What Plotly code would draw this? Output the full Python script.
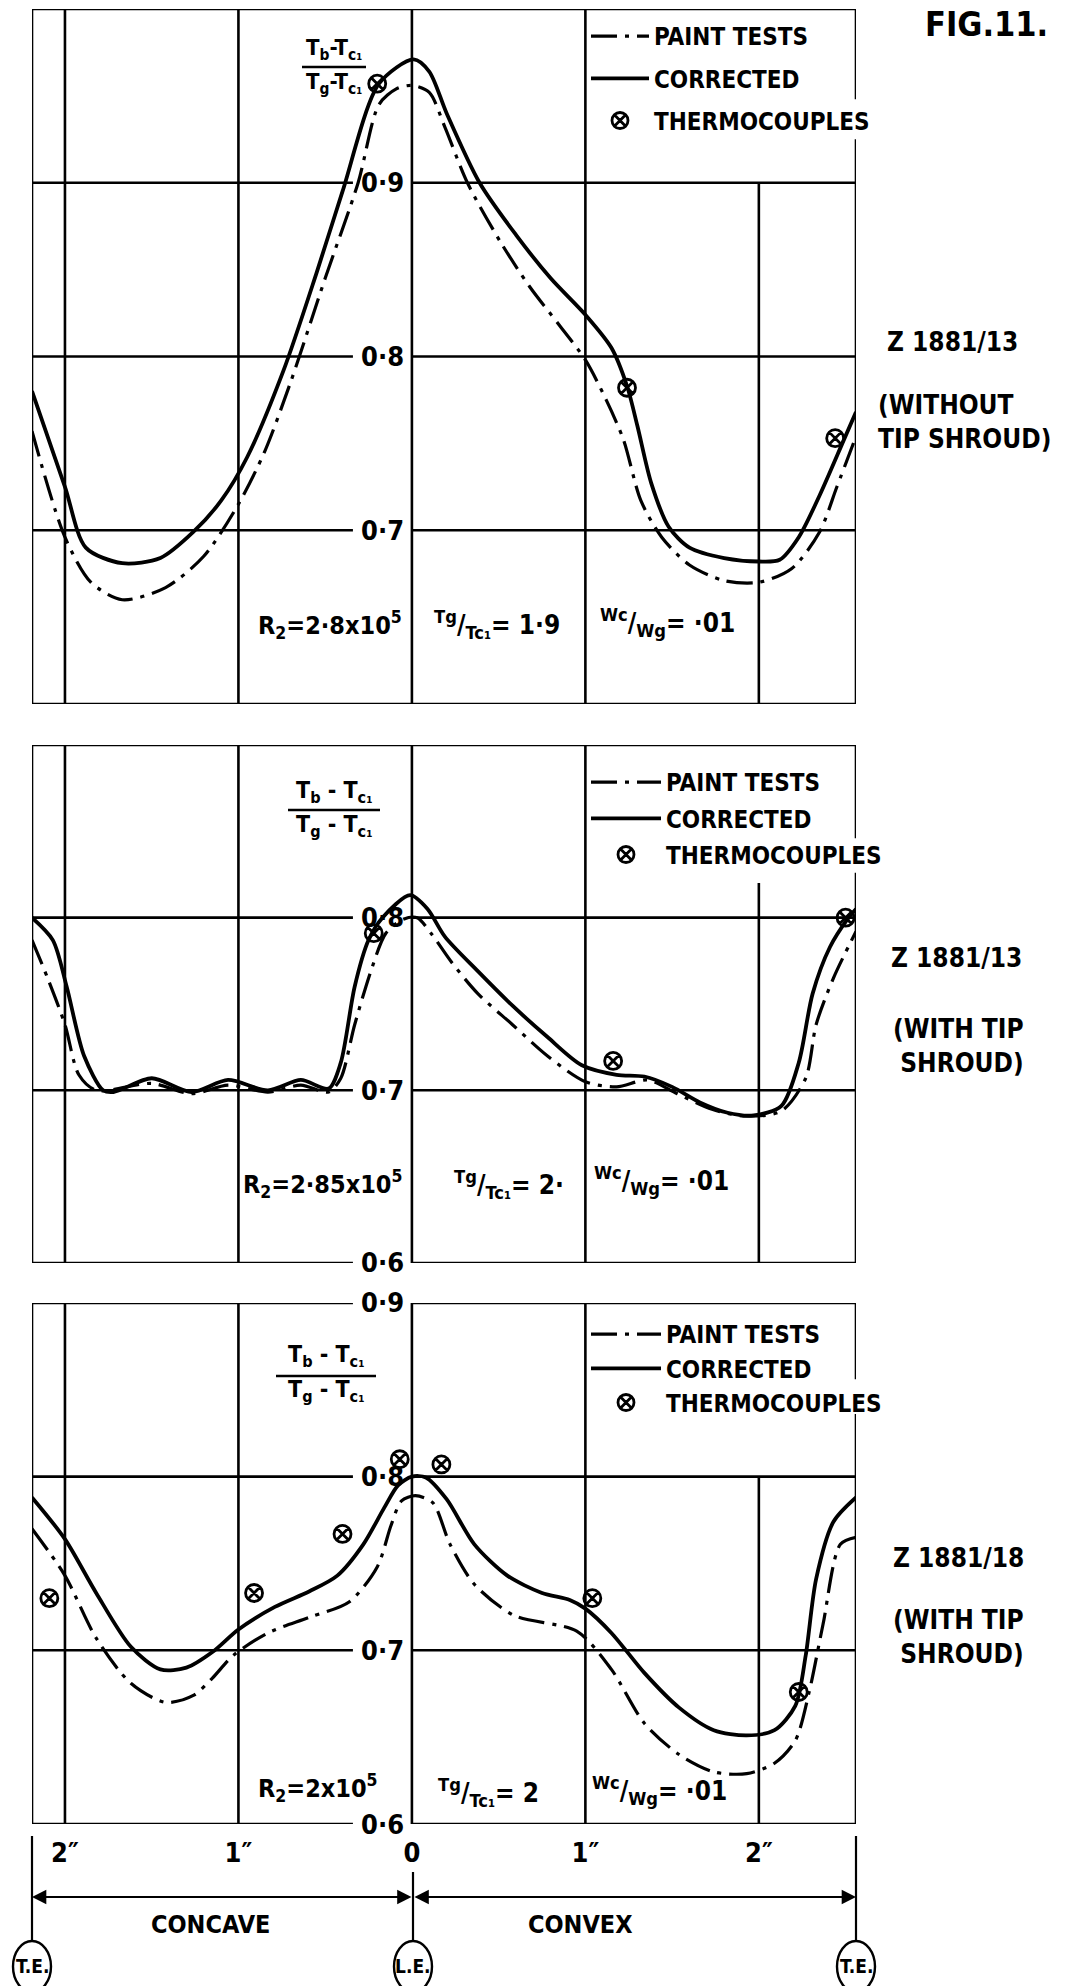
import plotly.graph_objects as go

FONT = "Liberation Sans Narrow, DejaVu Sans Condensed, Liberation Sans, sans-serif"
INK = "black"

# Surface distance from the leading edge in inches (concave side negative)
X_MIN, X_MAX = -2.19, 2.56
GRID_X = [-2, -1, 0, 1, 2]
TICK_TEXT = ["2″", "1″", "0", "1″", "2″"]

# ---- Z 1881/13, without tip shroud ----
p1_paint_x = [-2.19, -2.0, -1.85, -1.67, -1.42, -1.2, -1.0, -0.85, -0.70, -0.50, -0.31, -0.19, -0.09, 0.0,
              0.10, 0.19, 0.32, 0.51, 0.68, 0.85, 1.0, 1.12, 1.22, 1.32, 1.44, 1.6, 1.8, 2.0, 2.19, 2.35, 2.45, 2.56]
p1_paint_y = [0.757, 0.696, 0.670, 0.660, 0.667, 0.685, 0.715, 0.745, 0.785, 0.845, 0.900, 0.945, 0.954, 0.956,
              0.952, 0.932, 0.900, 0.866, 0.840, 0.818, 0.798, 0.775, 0.752, 0.717, 0.696, 0.680, 0.671, 0.670, 0.678,
              0.699, 0.725, 0.754]
p1_corr_x = [-2.19, -2.0, -1.88, -1.67, -1.45, -1.26, -1.1, -0.95, -0.74, -0.55, -0.40, -0.19, 0.01, 0.10, 0.20,
             0.39, 0.60, 0.80, 1.0, 1.15, 1.24, 1.30, 1.38, 1.48, 1.6, 1.8, 2.0, 2.12, 2.23, 2.35, 2.49, 2.56]
p1_corr_y = [0.780, 0.725, 0.690, 0.681, 0.684, 0.699, 0.717, 0.742, 0.792, 0.848, 0.895, 0.957, 0.971, 0.964, 0.940,
             0.900, 0.870, 0.845, 0.824, 0.805, 0.783, 0.760, 0.727, 0.702, 0.690, 0.684, 0.682, 0.683, 0.696, 0.720,
             0.752, 0.768]
p1_tc_x = [-0.20, 1.24, 2.44]
p1_tc_y = [0.957, 0.782, 0.753]

# ---- Z 1881/13, with tip shroud ----
p2_paint_x = [-2.19, -2.1, -2.0, -1.92, -1.82, -1.5, -1.27, -1.06, -0.83, -0.64, -0.48, -0.41, -0.33, -0.23,
              -0.15, -0.05, 0.03, 0.11, 0.23, 0.38, 0.58, 0.78, 1.0, 1.18, 1.36, 1.53, 1.73, 1.93, 2.13, 2.27,
              2.33, 2.43, 2.56]
p2_paint_y = [0.787, 0.765, 0.738, 0.709, 0.700, 0.704, 0.698, 0.703, 0.699, 0.703, 0.699, 0.707, 0.738, 0.771,
              0.791, 0.799, 0.800, 0.791, 0.774, 0.756, 0.738, 0.720, 0.705, 0.702, 0.706, 0.698, 0.689, 0.685, 0.688,
              0.707, 0.738, 0.765, 0.792]
p2_corr_x = [-2.19, -2.07, -1.99, -1.89, -1.78, -1.72, -1.5, -1.27, -1.06, -0.83, -0.64, -0.48, -0.41, -0.33,
             -0.25, -0.17, -0.01, 0.09, 0.19, 0.38, 0.58, 0.78, 0.98, 1.18, 1.34, 1.5, 1.66, 1.82, 1.97, 2.13,
             2.23, 2.31, 2.41, 2.51, 2.56]
p2_corr_y = [0.800, 0.787, 0.760, 0.720, 0.700, 0.699, 0.707, 0.699, 0.706, 0.700, 0.706, 0.701, 0.716, 0.760,
             0.787, 0.800, 0.813, 0.805, 0.789, 0.769, 0.749, 0.731, 0.7145, 0.709, 0.708, 0.702, 0.693, 0.687, 0.6855,
             0.691, 0.716, 0.756, 0.783, 0.799, 0.805]
p2_tc_x = [-0.22, 1.16, 2.50]
p2_tc_y = [0.791, 0.717, 0.800]

# ---- Z 1881/18, with tip shroud ----
p3_paint_x = [-2.19, -2.0, -1.82, -1.62, -1.42, -1.26, -1.15, -1.03, -0.83, -0.59, -0.36, -0.20, -0.12, -0.06,
              0.02, 0.12, 0.22, 0.36, 0.59, 0.95, 1.15, 1.34, 1.54, 1.74, 1.93, 2.09, 2.21, 2.29, 2.37, 2.47, 2.56]
p3_paint_y = [0.770, 0.743, 0.707, 0.681, 0.670, 0.674, 0.684, 0.697, 0.710, 0.719, 0.728, 0.748, 0.772, 0.786,
              0.789, 0.785, 0.761, 0.738, 0.720, 0.711, 0.689, 0.658, 0.640, 0.630, 0.629, 0.635, 0.648, 0.676, 0.715,
              0.761, 0.765]
p3_corr_x = [-2.19, -2.0, -1.82, -1.62, -1.45, -1.3, -1.15, -1.0, -0.79, -0.59, -0.43, -0.28, -0.16, -0.08,
             0.0, 0.08, 0.20, 0.36, 0.55, 0.75, 0.91, 1.0, 1.15, 1.34, 1.54, 1.74, 1.93, 2.09, 2.21, 2.27, 2.33,
             2.43, 2.56]
p3_corr_y = [0.788, 0.764, 0.733, 0.702, 0.689, 0.690, 0.699, 0.712, 0.725, 0.734, 0.743, 0.761, 0.782, 0.795,
             0.800, 0.7995, 0.787, 0.761, 0.743, 0.733, 0.729, 0.724, 0.710, 0.687, 0.667, 0.654, 0.651, 0.654, 0.668,
             0.697, 0.741, 0.774, 0.788]
p3_tc_x = [-2.09, -0.91, -0.40, -0.07, 0.17, 1.04, 2.23]
p3_tc_y = [0.730, 0.733, 0.767, 0.810, 0.807, 0.730, 0.676]

SERIES = [
    (p1_paint_x, p1_paint_y, p1_corr_x, p1_corr_y, p1_tc_x, p1_tc_y),
    (p2_paint_x, p2_paint_y, p2_corr_x, p2_corr_y, p2_tc_x, p2_tc_y),
    (p3_paint_x, p3_paint_y, p3_corr_x, p3_corr_y, p3_tc_x, p3_tc_y),
]

# value ranges, labelled grid values, top of the 2" line below the key, right-border break
PANELS = [
    dict(rng=(0.6, 1.0), dom=(0.6171, 1.0), labelled=[0.7, 0.8, 0.9], key_floor=0.9, gap=(0.925, 0.948)),
    dict(rng=(0.6, 0.9), dom=(0.3091, 0.5945), labelled=[0.6, 0.7, 0.8], key_floor=0.82, gap=(0.826, 0.846)),
    dict(rng=(0.6, 0.9), dom=(0.0, 0.2871), labelled=[0.6, 0.7, 0.8, 0.9], key_floor=0.8, gap=(0.836, 0.856)),
]
LABEL_LEFT = -0.34   # horizontal rules stop here to leave room for the value labels

W, H = 1074, 1986
ML, MR, MT, MB = 32, 218, 9, 162
PW, PH = W - ML - MR, H - MT - MB


def xp(px):
    return (px - ML) / PW


def yp(py):
    return (H - MB - py) / PH


def font(size, bold=True):
    return dict(size=size, family=FONT, color=INK, weight="bold" if bold else "normal")


fig = go.Figure()
shapes, annotations = [], []
LW = 2.6

for i, (pan, ser) in enumerate(zip(PANELS, SERIES)):
    k = "" if i == 0 else str(i + 1)
    xa, ya = "x" + k, "y" + k
    leg = "legend" + k
    px_, py_, cx_, cy_, tx_, ty_ = ser
    fig.add_trace(go.Scatter(
        x=px_, y=py_, mode="lines", name="PAINT TESTS", legend=leg, legendgroup="a" + k,
        line=dict(color=INK, width=3.2, dash="26px,8px,4px,8px", shape="spline", smoothing=0.8),
        xaxis=xa, yaxis=ya, hoverinfo="skip"))
    fig.add_trace(go.Scatter(
        x=cx_, y=cy_, mode="lines", name="CORRECTED", legend=leg, legendgroup="b" + k,
        line=dict(color=INK, width=3.8, shape="spline", smoothing=0.8),
        xaxis=xa, yaxis=ya, hoverinfo="skip"))
    fig.add_trace(go.Scatter(
        x=tx_, y=ty_, mode="markers", name="THERMOCOUPLES", legend=leg, legendgroup="c" + k,
        marker=dict(symbol="circle-x-open", size=17, color=INK, line=dict(width=2.8, color=INK)),
        xaxis=xa, yaxis=ya, hoverinfo="skip"))

    y0, y1 = pan["rng"]

    def seg(xa0, ya0, xa1, ya1):
        shapes.append(dict(type="line", xref=xa, yref=ya, x0=xa0, y0=ya0, x1=xa1, y1=ya1,
                           line=dict(color=INK, width=LW), layer="below"))

    # vertical rules
    for gx in GRID_X:
        seg(gx, y0, gx, pan["key_floor"] if gx == 2 else y1)
    seg(X_MIN, y0, X_MIN, y1)
    g0, g1 = pan["gap"]
    seg(X_MAX, y0, X_MAX, g0)
    seg(X_MAX, g1, X_MAX, y1)
    # horizontal rules
    nsteps = int(round((y1 - y0) / 0.1))
    for j in range(nsteps + 1):
        gy = round(y0 + 0.1 * j, 2)
        if gy in pan["labelled"]:
            seg(X_MIN, gy, LABEL_LEFT, gy)
            seg(0, gy, X_MAX, gy)
            annotations.append(dict(x=0, y=gy, xref=xa, yref=ya, xanchor="right", yanchor="middle",
                                    xshift=-6, text=("%.1f" % gy).replace(".", "·"), showarrow=False,
                                    font=font(27)))
        else:
            seg(X_MIN, gy, X_MAX, gy)

# keys
LEG = dict(bgcolor="rgba(0,0,0,0)", font=font(24), traceorder="grouped",
           xanchor="left", yanchor="top", borderwidth=0)
fig.update_layout(
    legend=dict(LEG, x=xp(586), y=yp(14), itemwidth=58, tracegroupgap=8),
    legend2=dict(LEG, x=xp(586), y=yp(760), itemwidth=70, tracegroupgap=2),
    legend3=dict(LEG, x=xp(586), y=yp(1312), itemwidth=70, tracegroupgap=0),
)


def text(px, py, s, size=24, xanchor="center", align="center", yanchor="middle", bold=True):
    annotations.append(dict(x=xp(px), y=yp(py), xref="paper", yref="paper", text=s, showarrow=False,
                            xanchor=xanchor, yanchor=yanchor, align=align, font=font(size, bold)))


def fraction(cx, ynum, ybar, yden, width, size, sp):
    text(cx, ynum, "T<sub>b</sub>" + sp + "-" + sp + "T<sub>c₁</sub>", size)
    text(cx, yden, "T<sub>g</sub>" + sp + "-" + sp + "T<sub>c₁</sub>", size)
    shapes.append(dict(type="line", xref="paper", yref="paper", x0=xp(cx - width / 2), x1=xp(cx + width / 2),
                       y0=yp(ybar), y1=yp(ybar), line=dict(color=INK, width=2.6)))


fraction(334, 50, 67, 84, 64, 22, "")
fraction(334, 792, 810, 826, 92, 23, " ")
fraction(326, 1356, 1376, 1391, 100, 23, " ")

text(986, 24, "FIG.11.", 34)

text(953, 342, "Z 1881/13", 26)
text(876, 422, "(WITHOUT<br>TIP SHROUD)", 26, xanchor="left", align="left")
text(956, 958, "Z 1881/13", 26)
text(1026, 1046, "(WITH TIP<br>SHROUD)", 26, xanchor="right", align="right")
text(958, 1558, "Z 1881/18", 26)
text(1026, 1637, "(WITH TIP<br>SHROUD)", 26, xanchor="right", align="right")

# test conditions along the foot of each panel
R_RIGHT = 404
text(R_RIGHT, 625, "R<sub>2</sub>=2·8x10<sup>5</sup>", 25, xanchor="right")
text(432, 625, "<sup>Tg</sup>/<sub>Tc₁</sub>= 1·9", 26, xanchor="left")
text(598, 622, "<sup>Wc</sup>/<sub>Wg</sub>= ·01", 26, xanchor="left")
text(R_RIGHT, 1184, "R<sub>2</sub>=2·85x10<sup>5</sup>", 25, xanchor="right")
text(452, 1184, "<sup>Tg</sup>/<sub>Tc₁</sub>= 2·", 26, xanchor="left")
text(592, 1180, "<sup>Wc</sup>/<sub>Wg</sub>= ·01", 26, xanchor="left")
text(R_RIGHT - 24, 1788, "R<sub>2</sub>=2x10<sup>5</sup>", 25, xanchor="right")
text(436, 1792, "<sup>Tg</sup>/<sub>Tc₁</sub>= 2", 26, xanchor="left")
text(590, 1790, "<sup>Wc</sup>/<sub>Wg</sub>= ·01", 26, xanchor="left")

# chord extent markers below the bottom panel
TE_L, LE_X, TE_R = 32, 413, 856
for x, ytop in [(TE_L, 1836), (LE_X, 1872), (TE_R, 1836)]:
    shapes.append(dict(type="line", xref="paper", yref="paper", x0=xp(x), x1=xp(x), y0=yp(ytop), y1=yp(1941),
                       line=dict(color=INK, width=2.2)))
    shapes.append(dict(type="circle", xref="paper", yref="paper", x0=xp(x - 19), x1=xp(x + 19),
                       y0=yp(1941), y1=yp(1992), line=dict(color=INK, width=2.4)))
text(TE_L, 1966, "T.E.", 19)
text(LE_X, 1966, "L.E.", 19)
text(TE_R, 1966, "T.E.", 19)

for head, tail in [(TE_L, LE_X), (TE_R, LE_X)]:
    annotations.append(dict(x=xp(head), y=yp(1897), xref="paper", yref="paper", axref="pixel", ayref="pixel",
                            ax=tail - head, ay=0, text="", showarrow=True, arrowhead=2, arrowside="end+start",
                            arrowsize=1.3, arrowwidth=2.2, arrowcolor=INK, standoff=0, startstandoff=0))
text(210, 1924, "CONCAVE", 25)
text(580, 1924, "CONVEX", 25)

axis_common = dict(range=[X_MIN, X_MAX], showgrid=False, zeroline=False, showline=False, fixedrange=True)
layout_axes = {}
for i, pan in enumerate(PANELS):
    k = "" if i == 0 else str(i + 1)
    xa = dict(axis_common, anchor="y" + k, domain=[0, 1], showticklabels=False, ticks="")
    if i == 2:
        xa.update(showticklabels=True, tickvals=GRID_X, ticktext=TICK_TEXT, ticklabelstandoff=10,
                  tickfont=font(27))
    layout_axes["xaxis" + k] = xa
    layout_axes["yaxis" + k] = dict(range=list(pan["rng"]), domain=list(pan["dom"]), anchor="x" + k,
                                    showgrid=False, zeroline=False, showline=False, showticklabels=False,
                                    ticks="", fixedrange=True)

fig.update_layout(
    width=W, height=H, margin=dict(l=ML, r=MR, t=MT, b=MB),
    paper_bgcolor="white", plot_bgcolor="white", showlegend=True,
    shapes=shapes, annotations=annotations, **layout_axes,
)

fig.write_html("out.html", config={"displayModeBar": False})
